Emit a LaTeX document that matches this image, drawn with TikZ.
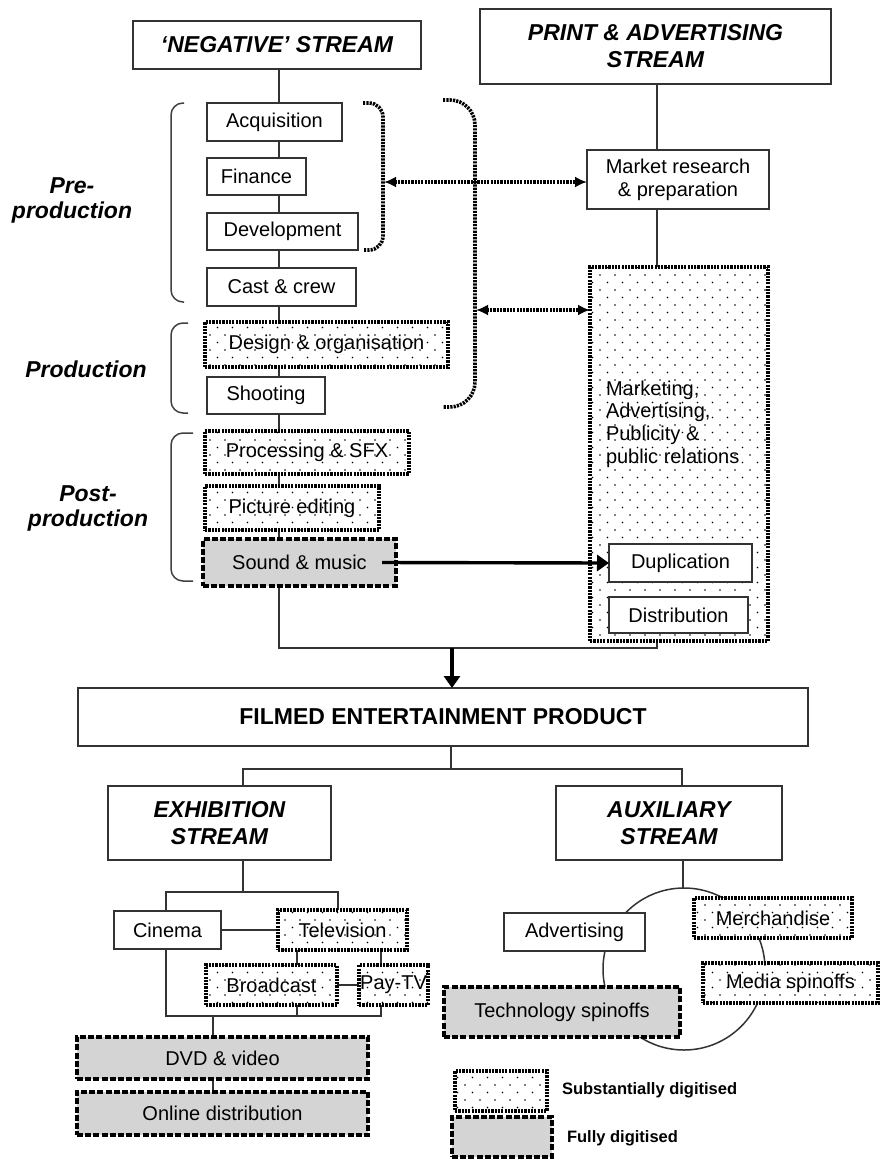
\documentclass[tikz,border=0pt]{standalone}
\usepackage{fontspec}
\setmainfont{Liberation Sans}
\usetikzlibrary{arrows.meta,patterns.meta,backgrounds}

\tikzset{
  base/.style={inner sep=0pt, outer sep=0pt, align=center, text=black,
    font=\fontsize{20}{23}\selectfont},
  plain/.style={base, draw=black!80, line width=1.6pt, fill=white},
  dotbox/.style={base, draw=black, line width=4.2pt, dash pattern=on 2.2pt off 1.1pt,
    preaction={fill=white},
    pattern={Dots[distance=15pt,radius=0.9pt]},
    postaction={pattern={Dots[distance=15pt,radius=0.9pt,xshift=7.5pt,yshift=7.5pt]}}},
  graybox/.style={base, draw=black, line width=4.8pt, dash pattern=on 6pt off 2.2pt,
    fill=black!17},
  headbox/.style={plain, font=\fontsize{23}{27}\selectfont\bfseries\itshape},
  phase/.style={base, font=\fontsize{23}{25}\selectfont\bfseries\itshape},
  legendtext/.style={base, anchor=west, font=\fontsize{16.5}{19}\selectfont\bfseries},
  conn/.style={draw=black!80, line width=1.5pt},
  brace/.style={draw=black!75, line width=1.5pt},
  dotline/.style={draw=black, line width=3.6pt, dash pattern=on 2.2pt off 1.1pt},
  dblarrow/.style={dotline, {Latex[length=12pt,width=11pt]}-{Latex[length=12pt,width=11pt]}},
  bigarrow/.style={draw=black, line width=3.4pt, -{Triangle[length=12pt,width=16pt]}},
}

\newcommand\bx[7]{\node[#1, minimum width={#5pt-#3pt}, minimum height={#6pt-#4pt}] (#2) at ({(#3+#5)/2},{(#4+#6)/2}) {#7};}

\begin{document}
\begin{tikzpicture}[x=1pt,y=-1pt]
\useasboundingbox (0,0) rectangle (881,1160);

% ---------- negative stream ----------
\bx{headbox}{neg}{133}{21}{421}{69}{‘NEGATIVE’ STREAM}
\bx{plain}{acq}{207}{103}{342}{141}{Acquisition}
\bx{plain}{fin}{207}{158}{306}{195}{Finance}
\bx{plain}{dev}{207}{213}{358}{250}{Development}
\bx{plain}{cast}{207}{268}{356}{306}{Cast \& crew}
\bx{dotbox}{design}{205}{322}{448}{367}{Design \& organisation}
\bx{plain}{shoot}{207}{377}{325}{414}{Shooting}
\bx{dotbox}{proc}{205}{431}{409}{474}{Processing \& SFX}
\bx{dotbox}{pic}{205}{486}{379}{530}{Picture editing}
\bx{graybox}{sound}{203}{539}{396}{586}{Sound \& music}

\node[phase] (pre) at (72,200) {Pre-\\production};
\node[phase] (prod) at (86,369) {Production};
\node[phase] (post) at (88,508) {Post-\\production};

% ---------- print & advertising stream ----------
\bx{headbox}{print}{480}{9}{831}{84}{PRINT \& ADVERTISING\\STREAM}
\bx{plain}{mr}{587}{150}{769}{209}{Market research\\\& preparation}
\bx{dotbox}{mkt}{590}{267}{768}{641}{}
\node[base, align=left, anchor=west, font=\fontsize{20}{22.7}\selectfont] (mkttxt) at (606,424)
  {Marketing,\\Advertising,\\Publicity \&\\public relations};
\bx{plain}{dup}{609}{544}{752}{582}{Duplication}
\bx{plain}{dist}{609}{597}{748}{633}{Distribution}

% ---------- product ----------
\bx{plain}{film}{78}{688}{808}{746}{\fontsize{23}{27}\selectfont\bfseries FILMED ENTERTAINMENT PRODUCT}
\bx{headbox}{exh}{108}{786}{331}{860}{EXHIBITION\\STREAM}
\bx{headbox}{aux}{556}{786}{782}{860}{AUXILIARY\\STREAM}

% ---------- exhibition ----------
\bx{plain}{cin}{114}{911}{221}{949}{Cinema}
\bx{dotbox}{tv}{278}{910}{407}{950}{Television}
\bx{dotbox}{bc}{206}{965}{337}{1005}{Broadcast}
\bx{dotbox}{pay}{359}{965}{428}{1005}{Pay-TV}
\bx{graybox}{dvd}{77}{1037}{368}{1079}{DVD \& video}
\bx{graybox}{onl}{77}{1092}{368}{1135}{Online distribution}

% ---------- auxiliary ----------
\bx{plain}{adv}{504}{913}{645}{951}{Advertising}
\bx{dotbox}{mer}{694}{898}{852}{938}{Merchandise}
\bx{dotbox}{med}{703}{963}{878}{1003}{Media spinoffs}
\bx{graybox}{tech}{444}{987}{680}{1037}{Technology spinoffs}

% ---------- legend ----------
\bx{dotbox}{leg1}{455}{1071}{547}{1111}{}
\bx{graybox}{leg2}{452}{1117}{552}{1157}{}
\node[legendtext] (leg1t) at (562,1090) {Substantially digitised};
\node[legendtext] (leg2t) at (567,1138) {Fully digitised};

% ---------- helper coordinates ----------
\coordinate (spine) at (279,0);
\coordinate (col2) at (657,0);
\coordinate (jl) at (279,648);
\coordinate (jm) at (452,648);
\coordinate (jr) at (657,648);
\coordinate (fb) at (451,769);
\coordinate (fbl) at (243,769);
\coordinate (fbr) at (682,769);
\coordinate (eb) at (243,892);
\coordinate (ebl) at (166,892);
\coordinate (ebr) at (338,892);
\coordinate (tvl) at (297,0);
\coordinate (tvr) at (381,0);
\coordinate (lb) at (166,1016);
\coordinate (lbr) at (381,1016);
\coordinate (lbm) at (213,1016);
\coordinate (cc) at (684,969);
\coordinate (ctop) at (683,888);
\coordinate (b1) at (384,182);
\coordinate (b2) at (476,310);

\begin{scope}[on background layer]
  % negative stream spine
  \foreach \a/\b in {neg/acq,acq/fin,fin/dev,dev/cast,cast/design,design/shoot,shoot/proc,proc/pic,pic/sound}
    \draw[conn] (\a.south -| spine) -- (\b.north -| spine);
  \draw[conn] (sound.south -| spine) -- (jl) -- (jr) -- (dist.south -| col2);
  % print stream
  \draw[conn] (print.south -| col2) -- (mr.north -| col2);
  \draw[conn] (mr.south -| col2) -- (mkt.north -| col2);
  \draw[conn] (dup.south -| col2) -- (dist.north -| col2);
  % product
  \draw[conn] (film.south -| fb) -- (fb);
  \draw[conn] (fbl |- exh.north) -- (fbl) -- (fbr) -- (fbr |- aux.north);
  % exhibition
  \draw[conn] (exh.south -| eb) -- (eb);
  \draw[conn] (ebl |- cin.north) -- (ebl) -- (ebr) -- (ebr |- tv.north);
  \draw[conn] (cin.east) -- (tv.west |- cin.east);
  \draw[conn] (tv.south -| tvl) -- (bc.north -| tvl);
  \draw[conn] (tv.south -| tvr) -- (pay.north -| tvr);
  \draw[conn] (bc.east) -- (pay.west);
  \draw[conn] (cin.south -| lb) -- (lb) -- (lbr) -- (pay.south -| lbr);
  \draw[conn] (bc.south -| tvl) -- (tvl |- lb);
  \draw[conn] (lbm) -- (dvd.north -| lbm);
  \draw[conn] (dvd.south -| lbm) -- (onl.north -| lbm);
  % auxiliary
  \draw[conn] (aux.south -| ctop) -- (ctop);
  \draw[conn] (cc) circle[radius=81];
\end{scope}

% phase braces
\draw[brace, rounded corners=12pt] (184,103) -- (171,103) -- (171,302) -- (184,302);
\draw[brace, rounded corners=12pt] (188,323) -- (171,323) -- (171,413) -- (188,413);
\draw[brace, rounded corners=12pt] (193,433) -- (171,433) -- (171,581) -- (193,581);

% dotted brackets and arrows
\draw[dotline, rounded corners=14pt] (363,103) -- (383,103) -- (383,250) -- (363,250);
\draw[dotline, rounded corners=25pt] (443,100) -- (475,100) -- (475,407) -- (443,407);
\draw[dblarrow] (b1) -- (b1 -| mr.west);
\draw[dblarrow] (b2) -- (b2 -| mkt.west);

% solid arrows
\draw[bigarrow] ([xshift=-14pt]sound.east) -- (dup.west);
\draw[bigarrow] (jm) -- (jm |- film.north);
\end{tikzpicture}
\end{document}
